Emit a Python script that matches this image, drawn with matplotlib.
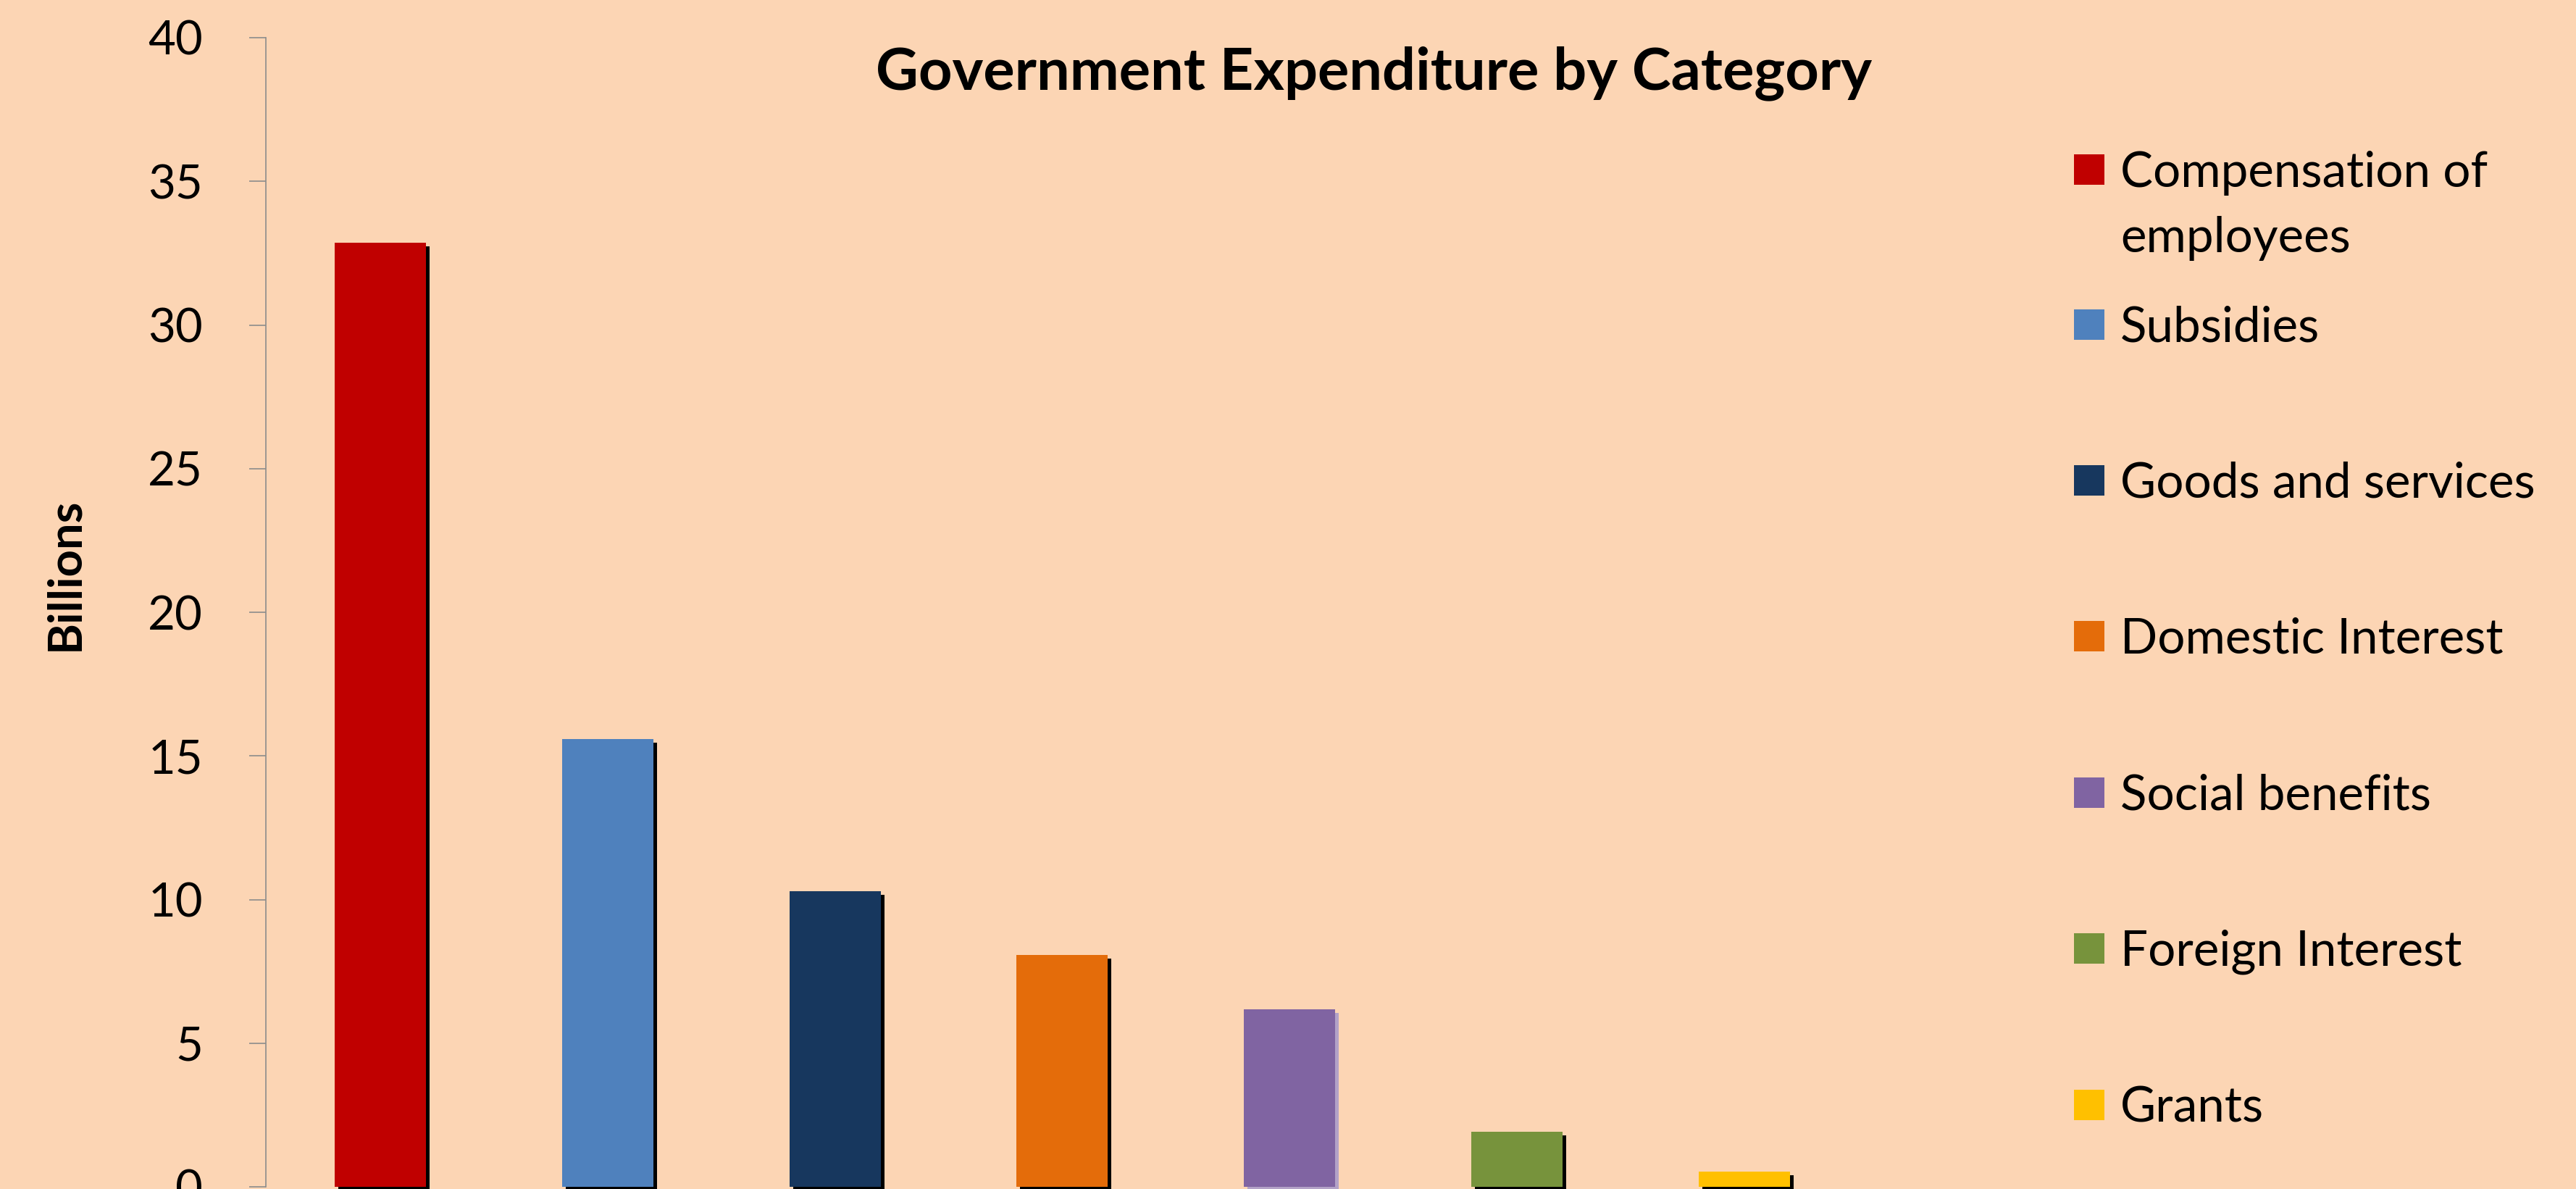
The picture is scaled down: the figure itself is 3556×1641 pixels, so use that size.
import matplotlib
matplotlib.use("Agg")
import matplotlib.pyplot as plt
import matplotlib.patheffects as pe
from matplotlib.patches import Rectangle

# ---- data ----
categories = ["Compensation of employees", "Subsidies", "Goods and services",
              "Domestic Interest", "Social benefits", "Foreign Interest", "Grants"]
legend_labels = ["Compensation of\nemployees", "Subsidies", "Goods and services",
                 "Domestic Interest", "Social benefits", "Foreign Interest", "Grants"]
values = [32.86, 15.59, 10.29, 8.07, 6.18, 1.92, 0.53]
colors = ["#C00000", "#4F81BD", "#17375E", "#E46C0A", "#8064A2", "#77933C", "#FFC000"]
shadow_colors = ["black", "black", "black", "black", "#B3A2C7", "black", "black"]
yticks = [0, 5, 10, 15, 20, 25, 30, 35, 40]

W, H = 3556, 1641
DPI = 100
BG = "#FCD5B4"
FONT = "Lato"

fig = plt.figure(figsize=(W / DPI, H / DPI), dpi=DPI, facecolor=BG)

def fx(px):
    return px / W

def fy(py):
    return 1 - py / H

ax_left, ax_right, ax_top, ax_bottom = 367, 2750, 52, 1638
ax = fig.add_axes([fx(ax_left), fy(ax_bottom), fx(ax_right - ax_left), (ax_bottom - ax_top) / H])
ax.set_facecolor(BG)

spacing_px = 313.8
first_center_px = 525
x0 = (ax_left - first_center_px) / spacing_px
x1 = (ax_right - first_center_px) / spacing_px

xs = list(range(len(values)))
bars = ax.bar(xs, values, width=126 / spacing_px, color=colors, linewidth=0, clip_on=False, zorder=3)
off = 5 * 72 / DPI
for b, sc in zip(bars, shadow_colors):
    b.set_path_effects([pe.SimplePatchShadow(offset=(off, -off), shadow_rgbFace=sc, alpha=1.0),
                        pe.Normal()])

ax.set_xlim(x0, x1)
ax.set_ylim(0, 40)
ax.set_yticks(yticks)
ax.set_yticklabels([str(t) for t in yticks], fontsize=47, fontfamily=FONT)
ax.set_xticks([])
for s in ["top", "right", "bottom"]:
    ax.spines[s].set_visible(False)
ax.spines["left"].set_color("#8C8C8C")
ax.spines["left"].set_linewidth(1.2)
ax.tick_params(axis="y", length=23 * 72 / DPI, width=1.2, color="#8C8C8C", pad=64 * 72 / DPI)

# axis label
fig.text(fx(90), fy(792), "Billions", rotation=90, ha="center", va="center",
         fontsize=47, fontweight="bold", fontfamily=FONT)

# title
fig.text(fx(1897), fy(123), "Government Expenditure by Category", ha="center", va="baseline",
         fontsize=58.5, fontweight="bold", fontfamily=FONT)

# legend
leg_centers = [234, 448, 663, 878, 1094, 1309, 1525]
sq = 42
for lab, c, cy in zip(legend_labels, colors, leg_centers):
    fig.patches.append(Rectangle((fx(2863), fy(cy + sq / 2)), fx(sq), sq / H,
                                 transform=fig.transFigure, facecolor=c, edgecolor="none"))
    for k, line in enumerate(lab.split("\n")):
        fig.text(fx(2927), fy(cy + 23.5 + 90 * k), line, ha="left", va="baseline",
                 fontsize=48.5, fontfamily=FONT)

fig.savefig("out.png", dpi=DPI, facecolor=BG)
